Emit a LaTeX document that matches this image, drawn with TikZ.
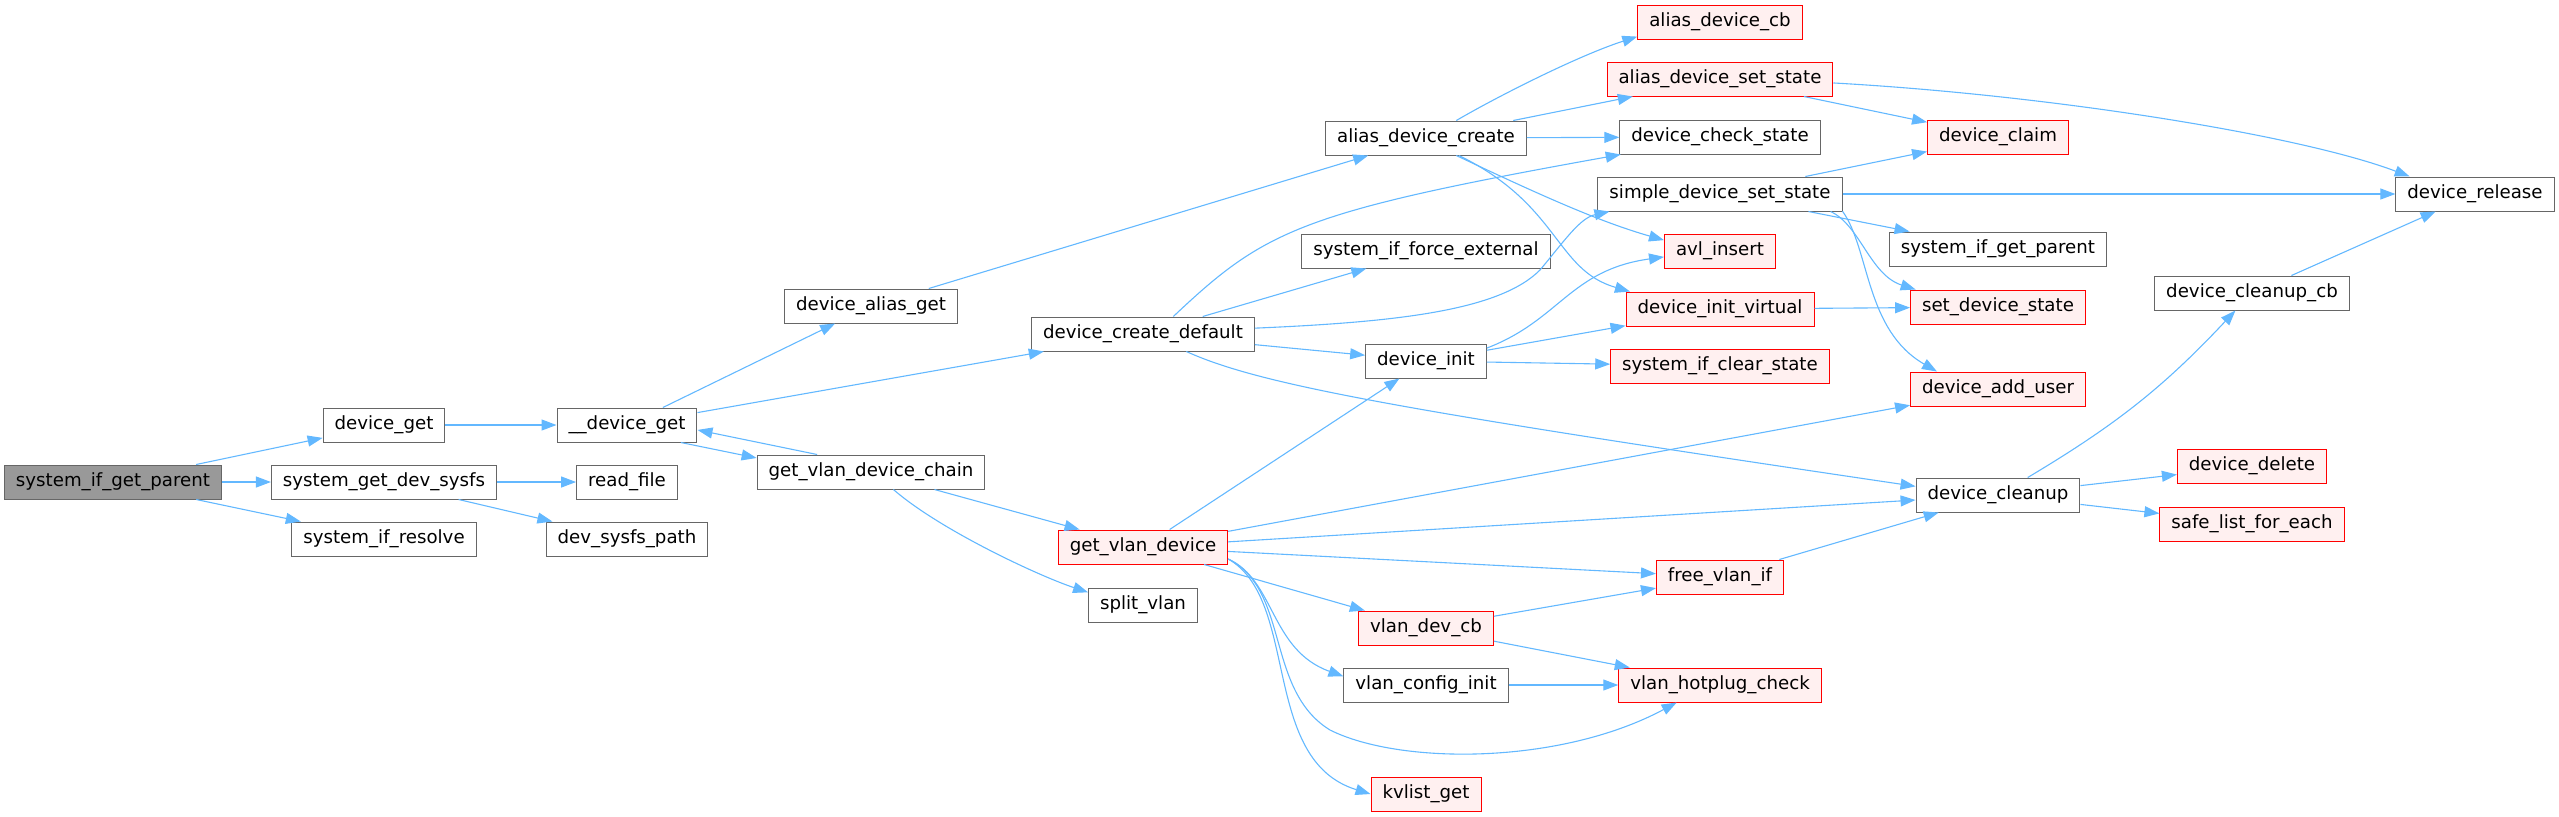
\documentclass[tikz,border=0pt]{standalone}
\usepackage{fontspec}
\setmainfont{DejaVu Sans}
\usetikzlibrary{arrows.meta}
\definecolor{edgeblue}{HTML}{63B8FF}
\definecolor{boxgray}{HTML}{666666}
\definecolor{rootgray}{HTML}{999999}
\definecolor{hotfill}{HTML}{FFF0F0}

\begin{document}
\begin{tikzpicture}[x=0.5pt, y={(0pt,-0.5pt)}, >={Triangle[length=7.5pt,width=5.5pt]},
    fn/.style={draw=boxgray, fill=white, line width=0.5pt, inner xsep=5.75pt, inner ysep=0pt,
      minimum height=17pt, font=\fontsize{9.1}{11}\selectfont},
    fnhot/.style={fn, draw=red, fill=hotfill},
    fnroot/.style={fn, fill=rootgray},
    call/.style={->, edgeblue, line width=0.55pt}]
    \useasboundingbox (0,0) rectangle (2559,816);

    \node[fnroot] (sigp) at (113,482) {system\_if\_get\_parent};
    \node[fn] (dget) at (384,425) {device\_get};
    \node[fn] (sgds) at (384,482) {system\_get\_dev\_sysfs};
    \node[fn] (sifr) at (384,539) {system\_if\_resolve};
    \node[fn] (ddget) at (627,425) {\_\_device\_get};
    \node[fn] (rfile) at (627,482) {read\_file};
    \node[fn] (dsp) at (627,539) {dev\_sysfs\_path};
    \node[fn] (dag) at (871,306) {device\_alias\_get};
    \node[fn] (gvdc) at (871,472) {get\_vlan\_device\_chain};
    \node[fn] (dcd) at (1143,334) {device\_create\_default};
    \node[fnhot] (gvd) at (1143,547) {get\_vlan\_device};
    \node[fn] (svlan) at (1143,605) {split\_vlan};
    \node[fn] (adc) at (1426,138) {alias\_device\_create};
    \node[fn] (sife) at (1426,251) {system\_if\_force\_external};
    \node[fn] (dinit) at (1426,361) {device\_init};
    \node[fnhot] (vdc) at (1426,628) {vlan\_dev\_cb};
    \node[fn] (vci) at (1426,685) {vlan\_config\_init};
    \node[fnhot] (kvg) at (1426,794) {kvlist\_get};
    \node[fnhot] (adcb) at (1720,22) {alias\_device\_cb};
    \node[fnhot] (adss) at (1720,79) {alias\_device\_set\_state};
    \node[fn] (dcs) at (1720,137) {device\_check\_state};
    \node[fn] (sdss) at (1720,194) {simple\_device\_set\_state};
    \node[fnhot] (avl) at (1720,251) {avl\_insert};
    \node[fnhot] (div) at (1720,309) {device\_init\_virtual};
    \node[fnhot] (sics) at (1720,366) {system\_if\_clear\_state};
    \node[fnhot] (fvi) at (1720,577) {free\_vlan\_if};
    \node[fnhot] (vhc) at (1720,685) {vlan\_hotplug\_check};
    \node[fnhot] (dclaim) at (1998,137) {device\_claim};
    \node[fn] (sigpb) at (1998,249) {system\_if\_get\_parent};
    \node[fnhot] (sds) at (1998,307) {set\_device\_state};
    \node[fnhot] (dau) at (1998,389) {device\_add\_user};
    \node[fn] (dc) at (1998,495) {device\_cleanup};
    \node[fn] (dcc) at (2252,293) {device\_cleanup\_cb};
    \node[fnhot] (ddel) at (2252,466) {device\_delete};
    \node[fnhot] (slfe) at (2252,524) {safe\_list\_for\_each};
    \node[fn] (drel) at (2475,194) {device\_release};

    % calls
    \draw[call] (sigp) -- (dget);
    \draw[call] (sigp) -- (sgds);
    \draw[call] (sigp) -- (sifr);
    \draw[call] (dget) -- (ddget);
    \draw[call] (sgds) -- (rfile);
    \draw[call] (sgds) -- (dsp);
    \draw[call] (ddget) -- (dag);
    \draw[call] (ddget) -- (dcd);
    \draw[call] (ddget.-18) -- (gvdc.173);
    \draw[call] (gvdc.162) -- (ddget.-4);
    \draw[call] (gvdc) -- (gvd);
    \draw[call] (gvdc.-38) .. controls (940,530) and (1039,576) .. (svlan.167);
    \draw[call] (dag) -- (adc);
    \draw[call] (dcd.30) .. controls (1265,230) and (1300,212) .. (dcs.190);
    \draw[call] (dcd) -- (sife);
    \draw[call] (dcd.3) .. controls (1400,322) and (1500,310) .. (1540,270)
      .. controls (1565,240) and (1580,218) .. (sdss.189);
    \draw[call] (dcd) -- (dinit);
    \draw[call] (dcd.-22) .. controls (1260,385) and (1400,410) .. (dc.174);
    \draw[call] (adc.30) .. controls (1500,95) and (1580,55) .. (adcb.190);
    \draw[call] (adc) -- (adss);
    \draw[call] (adc) -- (dcs);
    \draw[call] (adc.-30) .. controls (1540,195) and (1600,222) .. (avl.169);
    \draw[call] (adc.-28) .. controls (1560,205) and (1555,270) .. (div.169);
    \draw[call] (adss) -- (dclaim);
    \draw[call] (adss.-2) .. controls (2050,95) and (2300,135) .. (drel.165);
    \draw[call] (sdss) -- (dclaim);
    \draw[call] (sdss) -- (drel);
    \draw[call] (sdss) -- (sigpb);
    \draw[call] (sdss.-9) .. controls (1860,225) and (1870,275) .. (sds.168);
    \draw[call] (sdss.-8) .. controls (1870,250) and (1865,330) .. (dau.164);
    \draw[call] (dinit.12) .. controls (1560,320) and (1570,270) .. (avl.186);
    \draw[call] (dinit) -- (div);
    \draw[call] (dinit) -- (sics);
    \draw[call] (div) -- (sds);
    \draw[call] (gvd) -- (dinit);
    \draw[call] (gvd) -- (dau);
    \draw[call] (gvd) -- (dc);
    \draw[call] (gvd) -- (fvi);
    \draw[call] (gvd) -- (vdc);
    \draw[call] (gvd.-8) .. controls (1275,580) and (1270,650) .. (vci.174);
    \draw[call] (gvd.-8) .. controls (1290,590) and (1265,690) .. (1330,730)
      .. controls (1400,765) and (1560,765) .. (vhc.202);
    \draw[call] (gvd.-8) .. controls (1300,600) and (1260,760) .. (kvg.west);
    \draw[call] (fvi) -- (dc);
    \draw[call] (vdc) -- (fvi);
    \draw[call] (vdc) -- (vhc);
    \draw[call] (vci) -- (vhc);
    \draw[call] (dc) to[bend right=8] (dcc);
    \draw[call] (dc) -- (ddel);
    \draw[call] (dc) -- (slfe);
    \draw[call] (dcc) -- (drel);
\end{tikzpicture}
\end{document}
